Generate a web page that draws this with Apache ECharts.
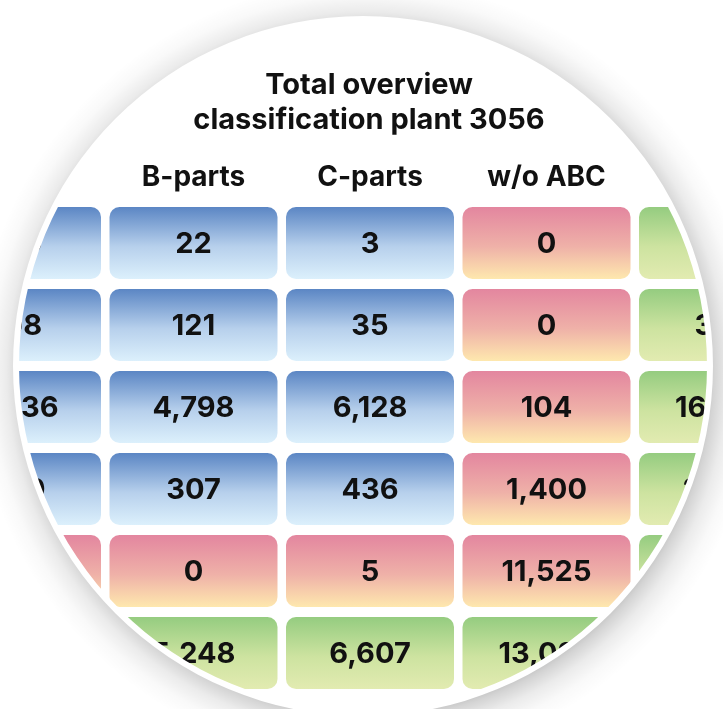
<!DOCTYPE html>
<html>
<head>
<meta charset="utf-8">
<script src="https://cdn.jsdelivr.net/npm/echarts@6/dist/echarts.min.js"></script>
<style>
html,body{margin:0;padding:0;background:#fff;}
#chart{width:723px;height:709px;}
</style>
</head>
<body>
<div id="chart"></div>
<script>
// ---- data ----
const titleText = 'Total overview\nclassification plant 3056';
const columns = ['A-parts', 'B-parts', 'C-parts', 'w/o ABC', 'Total'];
const rowIds = ['1', '2', '3', '4', '5', '6'];
// values per column, top row to bottom row (values hidden by the round crop are estimates)
const colA = [410, 198, 5336, 590, 2, 6536];
const colB = [22, 121, 4798, 307, 0, 5248];
const colC = [3, 35, 6128, 436, 5, 6607];
const colWo = [0, 0, 104, 1400, 11525, 13029];
const colTotal = [435, 354, 16366, 2733, 11532, 31420];
const columnValues = [colA, colB, colC, colWo, colTotal];

// ---- build ----
const cells = [];
columnValues.forEach((vals, c) => vals.forEach((v, r) => cells.push([c, r, v])));

const FONT = 'Inter, Roboto, sans-serif';
const grads = {
  blue: [[0, '#5b86c4'], [0.55, '#b7d0ec'], [1, '#dcf0fc']],
  pink: [[0, '#e3869f'], [0.55, '#efb1a8'], [1, '#fee8ae']],
  green: [[0, '#95cc80'], [0.55, '#cde3a0'], [1, '#e2ebb1']]
};
function kind(c, r) {
  const lastC = columns.length - 1, lastR = rowIds.length - 1;
  if (c === lastC || r === lastR) return 'green';
  if (c === lastC - 1 || r === lastR - 1) return 'pink';
  return 'blue';
}
function fmt(v) { return v.toLocaleString('en-US'); }

const CX = 363, CY = 366;
const chart = echarts.init(document.getElementById('chart'), null, {renderer: 'canvas'});
chart.setOption({
  backgroundColor: '#ffffff',
  animation: false,
  title: {
    text: titleText,
    left: 364,
    textAlign: 'center',
    top: 63,
    textStyle: {fontFamily: FONT, fontSize: 29, fontWeight: 'bold', lineHeight: 35, color: '#111'}
  },
  grid: {left: -71.25, top: 202, width: 882.5, height: 492, containLabel: false, outerBoundsMode: 'none'},
  xAxis: {
    type: 'category',
    data: columns,
    position: 'top',
    axisLine: {show: false},
    axisTick: {show: false},
    splitLine: {show: false},
    axisLabel: {interval: 0, margin: 10, fontFamily: FONT, fontSize: 28, fontWeight: 'bold', color: '#111'}
  },
  yAxis: {type: 'category', data: rowIds, inverse: true, show: false},
  series: [{
    type: 'custom',
    coordinateSystem: 'cartesian2d',
    data: cells,
    z: 2,
    silent: true,
    renderItem: function (params, api) {
      const c = api.value(0), r = api.value(1), v = api.value(2);
      const p = api.coord([c, r]);
      const s = api.size([1, 1]);
      const w = s[0] - 8.5, h = s[1] - 10;
      const stops = grads[kind(c, r)].map(([o, col]) => ({offset: o, color: col}));
      return {
        type: 'group',
        children: [
          {type: 'rect', shape: {x: p[0] - w / 2, y: p[1] - h / 2, width: w, height: h, r: 10},
           style: {fill: new echarts.graphic.LinearGradient(0, 0, 0, 1, stops)}},
          {type: 'text', style: {text: fmt(v), x: p[0], y: p[1] + 1, align: 'center', verticalAlign: 'middle',
            font: 'bold 29px ' + FONT, fill: '#111'}}
        ]
      };
    }
  }],
  graphic: [
    {type: 'ring', silent: true, z: 100, shape: {cx: CX, cy: CY, r: 1300, r0: 344}, style: {fill: '#ffffff'}},
    {type: 'ring', silent: true, z: 101, shape: {cx: CX, cy: CY, r: 430, r0: 350},
     style: {fill: new echarts.graphic.RadialGradient(CX + 4, CY + 6, 392, [
       {offset: 0.855, color: 'rgba(0,0,0,0.28)'},
       {offset: 0.885, color: 'rgba(0,0,0,0.17)'},
       {offset: 0.92, color: 'rgba(0,0,0,0.08)'},
       {offset: 0.96, color: 'rgba(0,0,0,0.025)'},
       {offset: 1, color: 'rgba(0,0,0,0)'}
     ], true)}}
  ]
});
</script>
</body>
</html>
